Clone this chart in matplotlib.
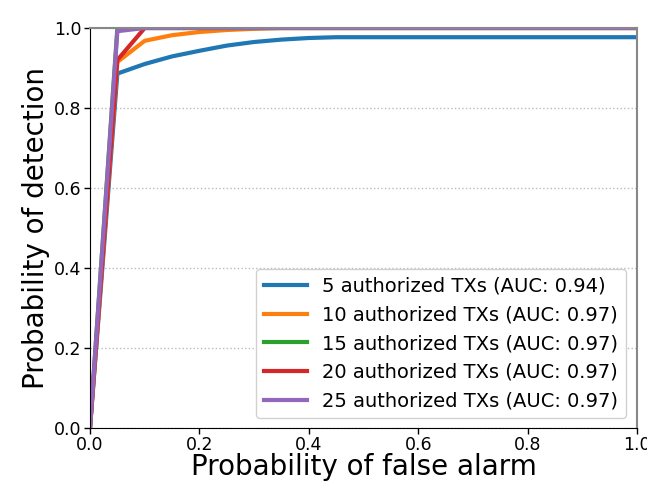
import matplotlib
matplotlib.use('Agg')
import matplotlib.pyplot as plt

# ROC 곡선 데이터
pfa = [0.0, 0.05, 0.10, 0.15, 0.20, 0.25, 0.30, 0.35, 0.40, 0.45, 0.50, 1.0]
pd_5 = [0.0, 0.886, 0.910, 0.929, 0.943, 0.956, 0.965, 0.971, 0.975, 0.977, 0.977, 0.977]
pd_10 = [0.0, 0.915, 0.968, 0.982, 0.990, 0.995, 0.998, 1.0, 1.0, 1.0, 1.0, 1.0]
pd_15 = [0.0, 1.0, 1.0, 1.0, 1.0, 1.0, 1.0, 1.0, 1.0, 1.0, 1.0, 1.0]
pd_20 = [0.0, 0.920, 1.0, 1.0, 1.0, 1.0, 1.0, 1.0, 1.0, 1.0, 1.0, 1.0]
pd_25 = [0.0, 0.992, 1.0, 1.0, 1.0, 1.0, 1.0, 1.0, 1.0, 1.0, 1.0, 1.0]

labels = [
    "5 authorized TXs (AUC: 0.94)",
    "10 authorized TXs (AUC: 0.97)",
    "15 authorized TXs (AUC: 0.97)",
    "20 authorized TXs (AUC: 0.97)",
    "25 authorized TXs (AUC: 0.97)",
]
series = [pd_5, pd_10, pd_15, pd_20, pd_25]
colors = ['#1f77b4', '#ff7f0e', '#2ca02c', '#d62728', '#9467bd']

fig = plt.figure(figsize=(6.47, 4.82), dpi=100)
ax = fig.add_axes([90 / 647, 54 / 482, 547 / 647, 400 / 482])

for ys, lab, c in zip(series, labels, colors):
    ax.plot(pfa, ys, color=c, linewidth=3, label=lab)

ax.set_xlim(0, 1)
ax.set_ylim(0, 1)
ax.set_xticks([0.0, 0.2, 0.4, 0.6, 0.8, 1.0])
ax.set_yticks([0.0, 0.2, 0.4, 0.6, 0.8, 1.0])
ax.tick_params(labelsize=12.5, length=4, width=1, pad=2)
ax.yaxis.grid(True, linestyle=':', color='#bbbbbb', linewidth=1)
ax.set_axisbelow(True)

for side in ['top', 'right']:
    ax.spines[side].set_color('#888888')
    ax.spines[side].set_linewidth(1.5)
for side in ['left', 'bottom']:
    ax.spines[side].set_color('black')

ax.set_xlabel("Probability of false alarm", fontsize=20, labelpad=-1)
ax.set_ylabel("Probability of detection", fontsize=20, labelpad=3)

ax.legend(loc='lower right', fontsize=14, framealpha=0.9, edgecolor='#cccccc',
          borderpad=0.4, labelspacing=0.5, handlelength=2.2,
          bbox_to_anchor=(0.998, 0.0))

fig.savefig('out.png', dpi=100)
